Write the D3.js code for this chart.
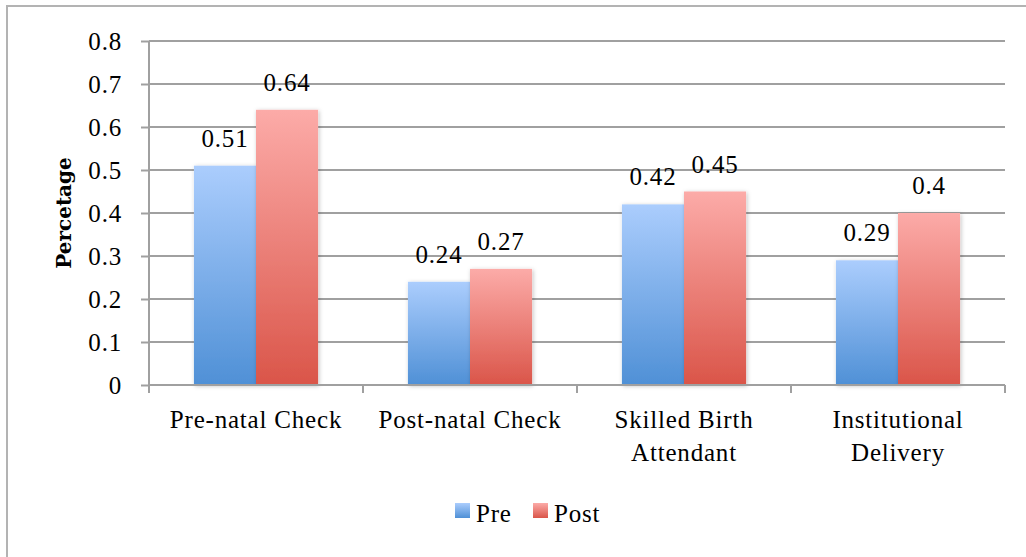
<!DOCTYPE html>
<html>
<head>
<meta charset="utf-8">
<script src="https://cdn.jsdelivr.net/npm/d3@7"></script>
<style>
  body { margin: 0; background: #fff; }
  text { font-family: "Liberation Serif", serif; fill: #000; letter-spacing: 0.8px; }
</style>
</head>
<body>
<div id="chart"></div>
<script>
// data
const categories = [['Pre-natal Check'], ['Post-natal Check'], ['Skilled Birth', 'Attendant'], ['Institutional', 'Delivery']];
const seriesNames = ['Pre', 'Post'];
const preValues = [0.51, 0.24, 0.42, 0.29];
const postValues = [0.64, 0.27, 0.45, 0.4];
const yTicks = [0, 0.1, 0.2, 0.3, 0.4, 0.5, 0.6, 0.7, 0.8];

const W = 1026, H = 557;
const margin = { top: 41, right: 21, bottom: 172, left: 149 };
const width = W - margin.left - margin.right;
const height = H - margin.top - margin.bottom;
const fs = '25px';

const svg = d3.select('#chart')
  .append('svg')
  .attr('width', W)
  .attr('height', H);

// gradients + shadow
const defs = svg.append('defs');
const grads = { Pre: ['#abcdfd', '#4f90d6'], Post: ['#fcaba8', '#da5549'] };
seriesNames.forEach(s => {
  const g = defs.append('linearGradient').attr('id', 'g' + s)
    .attr('x1', 0).attr('y1', 0).attr('x2', 0).attr('y2', 1);
  g.append('stop').attr('offset', '0%').attr('stop-color', grads[s][0]);
  g.append('stop').attr('offset', '100%').attr('stop-color', grads[s][1]);
});
const f = defs.append('filter').attr('id', 'shadow')
  .attr('x', '-10%').attr('y', '-10%').attr('width', '130%').attr('height', '130%');
f.append('feDropShadow').attr('dx', 1).attr('dy', 1).attr('stdDeviation', 2)
  .attr('flood-color', '#000').attr('flood-opacity', 0.25);

// outer frame (only left/top visible)
svg.append('rect')
  .attr('x', 7).attr('y', 6).attr('width', W).attr('height', H)
  .attr('fill', 'none').attr('stroke', '#b3b3b3').attr('stroke-width', 2);

const g = svg.append('g').attr('transform', `translate(${margin.left},${margin.top})`);

const x0 = d3.scaleBand().domain(d3.range(categories.length)).range([0, width]).padding(0);
const groupFrac = 0.58;
const outer = (1 / groupFrac - 1) * seriesNames.length / 2;
const x1 = d3.scaleBand().domain(seriesNames).range([0, x0.bandwidth()]).paddingInner(0).paddingOuter(outer);
const y = d3.scaleLinear().domain([0, 0.8]).range([height, 0]);

// gridlines
g.selectAll('.grid')
  .data(yTicks.filter(d => d > 0))
  .enter().append('line')
  .attr('x1', 0).attr('x2', width)
  .attr('y1', d => y(d)).attr('y2', d => y(d))
  .attr('stroke', '#a0a0a0').attr('stroke-width', 2);

// y axis
const yAxis = g.append('g')
  .call(d3.axisLeft(y).tickValues(yTicks).tickFormat(d => d === 0 ? '0' : d3.format('.1f')(d)).tickSize(8).tickPadding(19));
yAxis.attr('font-family', null).attr('font-size', null);
yAxis.selectAll('line, path').attr('stroke', '#a0a0a0').attr('stroke-width', 2);
yAxis.select('.domain').attr('d', `M0,0V${height}`);
yAxis.selectAll('text').style('font-size', fs).attr('dy', '0.34em');

// bars
const rows = categories.map((c, i) => ({ i, Pre: preValues[i], Post: postValues[i] }));
const groups = g.selectAll('.grp').data(rows).enter().append('g')
  .attr('transform', d => `translate(${x0(d.i)},0)`);

groups.selectAll('rect')
  .data(d => seriesNames.map(s => ({ s, v: d[s] })))
  .enter().append('rect')
  .attr('x', d => x1(d.s))
  .attr('width', x1.bandwidth())
  .attr('y', d => y(d.v))
  .attr('height', d => height - y(d.v))
  .attr('fill', d => `url(#g${d.s})`)
  .attr('filter', 'url(#shadow)');

groups.selectAll('.lbl')
  .data(d => seriesNames.map(s => ({ s, v: d[s] })))
  .enter().append('text')
  .attr('x', d => x1(d.s) + x1.bandwidth() / 2)
  .attr('y', d => y(d.v) - 19)
  .attr('text-anchor', 'middle')
  .style('font-size', fs)
  .text(d => d.v);

// x axis
const xAxis = g.append('g').attr('transform', `translate(0,${height})`);
xAxis.append('line').attr('x1', 0).attr('x2', width)
  .attr('stroke', '#a0a0a0').attr('stroke-width', 2);
xAxis.selectAll('.tk')
  .data(d3.range(categories.length + 1))
  .enter().append('line')
  .attr('x1', d => d * x0.step()).attr('x2', d => d * x0.step())
  .attr('y1', 0).attr('y2', 8)
  .attr('stroke', '#a0a0a0').attr('stroke-width', 2);
const cl = xAxis.selectAll('.cat')
  .data(categories.map((c, i) => ({ c, i })))
  .enter().append('text')
  .attr('text-anchor', 'middle')
  .style('font-size', fs)
  .attr('transform', d => `translate(${x0(d.i) + x0.bandwidth() / 2},43)`);
cl.selectAll('tspan').data(d => d.c).enter().append('tspan')
  .attr('x', 0).attr('y', (d, j) => j * 33)
  .text(d => d);

// y title
svg.append('text')
  .attr('transform', `translate(71,${margin.top + height / 2}) rotate(-90)`)
  .attr('text-anchor', 'middle')
  .style('font-family', '"DejaVu Serif", serif')
  .style('letter-spacing', '0px')
  .style('font-size', '20px')
  .style('font-weight', 'bold')
  .text('Percetage');

// legend
const legendItems = [{ s: 'Pre', x: 455 }, { s: 'Post', x: 533 }];
const lg = svg.selectAll('.leg').data(legendItems).enter().append('g')
  .attr('transform', d => `translate(${d.x},503)`);
lg.append('rect').attr('width', 15).attr('height', 15).attr('fill', d => `url(#g${d.s})`);
lg.append('text').attr('x', 21).attr('y', 19).style('font-size', fs).text(d => d.s);
</script>
</body>
</html>
